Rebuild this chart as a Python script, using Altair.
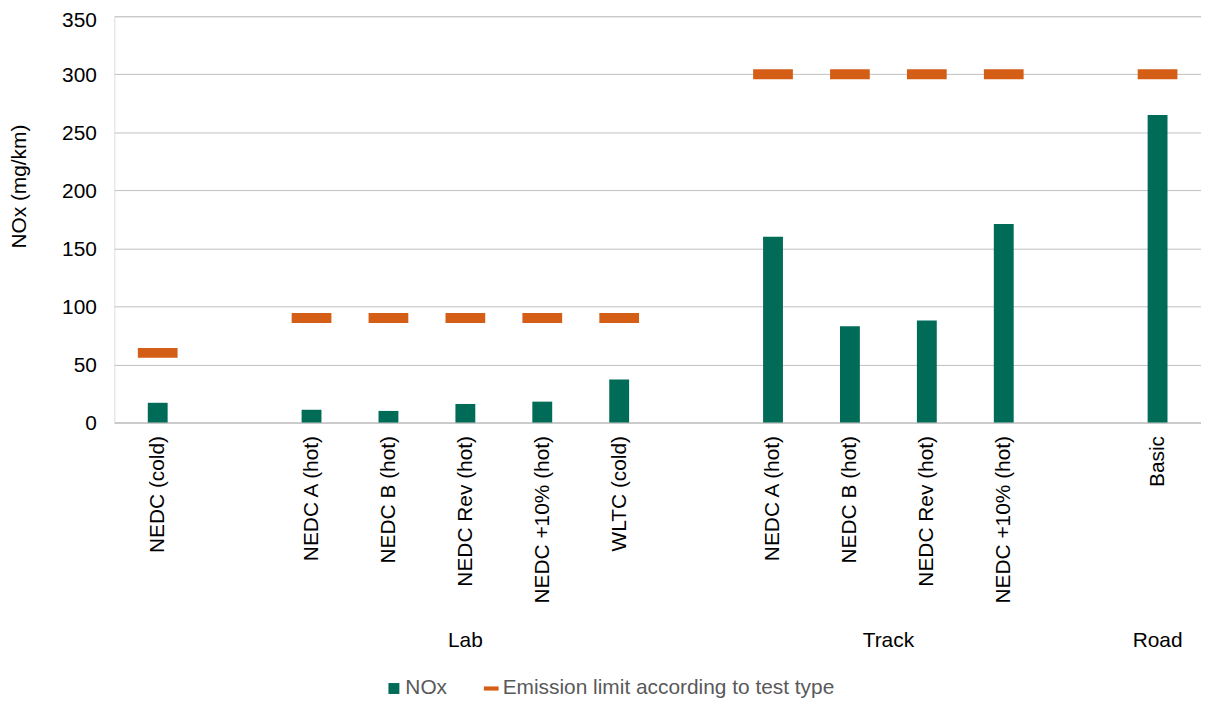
import json
import altair as alt
import pandas as pd

# ---- data ----
categories = ["NEDC (cold)", "NEDC A (hot)", "NEDC B (hot)", "NEDC Rev (hot)",
              "NEDC +10% (hot)", "WLTC (cold)", "NEDC A (hot)", "NEDC B (hot)",
              "NEDC Rev (hot)", "NEDC +10% (hot)", "Basic"]
slots = [0, 2, 3, 4, 5, 6, 8, 9, 10, 11, 13]          # category slot (gaps between groups)
nox = [17, 11, 10, 16, 18, 37, 160, 83, 88, 171, 265]
limit = [60, 90, 90, 90, 90, 90, 300, 300, 300, 300, 300]
groups = ["Lab", "Track", "Road"]
group_centers = [4, 9.5, 13]
series = ["NOx", "Emission limit according to test type"]
y_ticks = [0, 50, 100, 150, 200, 250, 300, 350]

GREEN = "#006B56"
ORANGE = "#D55E16"
FONT = "Liberation Sans"
FS = 21

df = pd.DataFrame({"slot": slots, "category": categories, "nox": nox, "limit": limit})
gdf = pd.DataFrame({"slot": group_centers, "group": groups})
ldf = pd.DataFrame({"series": series})

label_map = json.dumps({str(s): c for s, c in zip(slots, categories)})

W, H = 1094, 409

xscale = alt.Scale(domain=[-0.5, 13.5], nice=False, zero=False)
yscale = alt.Scale(domain=[0, 350], nice=False)

x_axis = alt.Axis(values=slots, labelExpr=f"{label_map}[datum.value]", labelAngle=-90,
                  labelPadding=13, labelFontSize=FS, labelColor="#000000", labelFont=FONT,
                  ticks=False, grid=False, domain=True, domainColor="#BFBFBF", title=None,
                  labelOverlap=False, labelBound=False, labelFlush=False, labelLimit=0)
y_axis = alt.Axis(values=y_ticks, labelFontSize=FS,
                  labelColor="#000000", labelFont=FONT, labelPadding=18,
                  labelOffset={"condition": {"test": f"datum.value == {max(y_ticks)}", "value": 4},
                               "value": 1},
                  ticks=False, domain=False, grid=True, gridColor="#BFBFBF", gridWidth=1,
                  labelFlush=False,
                  title="NOx (mg/km)", titleFontSize=FS, titleFont=FONT, titleFontWeight="normal",
                  titleColor="#000000", titleX=-95, titleY=171, titleAngle=-90,
                  titleAlign="center", titleBaseline="middle")

bars = alt.Chart(df).mark_bar(size=20, color=GREEN, orient="vertical").encode(
    x=alt.X("slot:Q", scale=xscale, axis=x_axis),
    y=alt.Y("nox:Q", scale=yscale, axis=y_axis),
)

ticks = alt.Chart(df).mark_tick(orient="horizontal", size=40, thickness=10, color=ORANGE, opacity=1).encode(
    x=alt.X("slot:Q", scale=xscale),
    y=alt.Y("limit:Q", scale=yscale),
)

group_text = alt.Chart(gdf).mark_text(fontSize=FS, font=FONT, color="#000000",
                                       align="center", baseline="middle").encode(
    x=alt.X("slot:Q", scale=xscale),
    y=alt.value(H + 220),
    text="group:N",
)

legend_props = dict(title=None, orient="none", legendX=271, legendY=H + 257,
                    direction="horizontal", labelFontSize=FS, labelFont=FONT,
                    labelColor="#595959", symbolOpacity=1, symbolSize=121,
                    symbolStrokeWidth=0, columnPadding=34, labelOffset=1, labelLimit=0)

legend_layer = alt.Chart(ldf).mark_point(filled=True, opacity=0).encode(
    x=alt.value(0),
    y=alt.value(0),
    color=alt.Color("series:N", scale=alt.Scale(domain=series, range=[GREEN, ORANGE]),
                    legend=alt.Legend(**legend_props)),
    shape=alt.Shape("series:N", scale=alt.Scale(domain=series,
                                                range=["square", "M-1.35,-0.38H1.35V0.38H-1.35Z"]),
                    legend=alt.Legend(**legend_props)),
)

chart = alt.layer(bars, ticks, group_text, legend_layer).properties(
    width=W, height=H,
    autosize=alt.AutoSizeParams(type="none"),
    padding={"left": 107, "top": 6, "right": 0, "bottom": 275},
).configure_view(stroke=None).configure(font=FONT)

chart.save("out.html", embed_options={"renderer": "svg", "actions": False})
